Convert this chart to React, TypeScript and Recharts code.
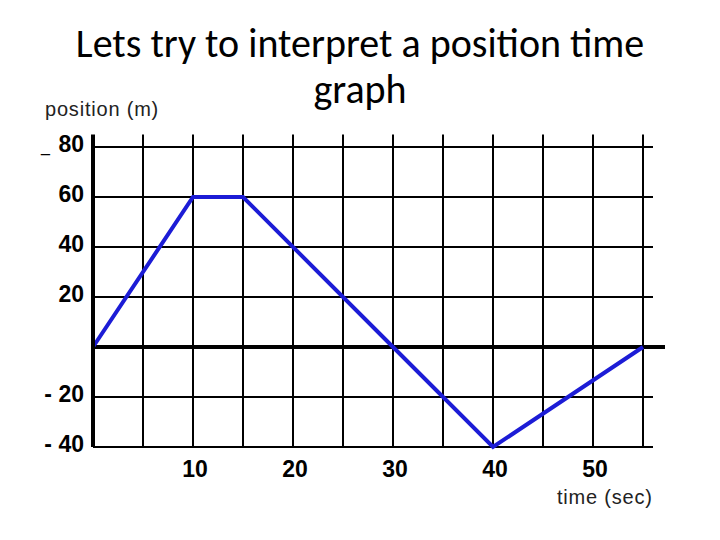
import { LineChart, Line, XAxis, YAxis, ReferenceLine } from 'recharts';

const times = [0, 10, 15, 30, 40, 55];
const positions = [0, 60, 60, 0, -40, 0];
const xTicks = [0, 5, 10, 15, 20, 25, 30, 35, 40, 45, 50, 55];
const xLabels = [10, 20, 30, 40, 50];
const yTicks = [-40, -20, 0, 20, 40, 60, 80];
const yLabels: Record<number, string> = { 80: '80', 60: '60', 40: '40', 20: '20', [-20]: '- 20', [-40]: '- 40' };

const data = times.map((t, i) => ({ t, pos: positions[i] }));

const tickFont = "'Liberation Sans', Arial, sans-serif";
const titleFont = "Carlito, Lato, 'Open Sans', sans-serif";

function XTick(props: any) {
  const { x, y, payload } = props;
  if (!xLabels.includes(payload.value)) return null;
  return (
    <text x={x + 2} y={y + 22} textAnchor="middle" fontSize={23} fontWeight="bold" fontFamily={tickFont} fill="#000">
      {payload.value}
    </text>
  );
}

function YTick(props: any) {
  const { y, payload } = props;
  const label = yLabels[payload.value];
  if (!label) return null;
  return (
    <g>
      {payload.value === 80 && (
        <text x={50} y={y + 5} textAnchor="end" fontSize={16} fontFamily={tickFont} fill="#000">_</text>
      )}
      <text x={84} y={y + 5} textAnchor="end" fontSize={23} fontWeight="bold" fontFamily={tickFont} fill="#000">
        {label}
      </text>
    </g>
  );
}

export default function App() {
  return (
    <div style={{ position: 'absolute', left: 0, top: 0, width: 720, height: 540, background: '#fff' }}>
      <LineChart width={720} height={540} data={data} margin={{ top: 134.5, right: 67, bottom: 63, left: 33 }}>
        <XAxis dataKey="t" type="number" domain={[0, 56]} ticks={xTicks} axisLine={false} tickLine={false} height={30} tick={<XTick />} interval={0} />
        <YAxis type="number" domain={[-40, 85]} ticks={yTicks} width={60} axisLine={{ stroke: '#000', strokeWidth: 4 }} tickLine={false} tick={<YTick />} interval={0} />
        {xTicks.filter((v) => v > 0).map((v) => (
          <ReferenceLine key={'v' + v} segment={[{ x: v, y: -40 }, { x: v, y: 85 }]} stroke="#000" strokeWidth={2} />
        ))}
        {yTicks.filter((v) => v !== 0).map((v) => (
          <ReferenceLine key={'h' + v} segment={[{ x: 0, y: v }, { x: 56, y: v }]} stroke="#000" strokeWidth={2} />
        ))}
        <ReferenceLine segment={[{ x: 0, y: 0 }, { x: 57.2, y: 0 }]} stroke="#000" strokeWidth={4} ifOverflow="visible" />
        <Line dataKey="pos" type="linear" stroke="#1c1cd6" strokeWidth={4} dot={false} isAnimationActive={false} />
      </LineChart>
      <svg width={720} height={540} style={{ position: 'absolute', left: 0, top: 0, pointerEvents: 'none' }}>
        <text x={360} y={57} textAnchor="middle" fontFamily={titleFont} fontSize={40} fill="#000">
          Lets try to interpret a position time
        </text>
        <text x={360} y={103} textAnchor="middle" fontFamily={titleFont} fontSize={40} fill="#000">
          graph
        </text>
        <text x={45} y={116} fontFamily={tickFont} fontSize={20} letterSpacing={0.8} fill="#222">position (m)</text>
        <text x={557} y={504} fontFamily={tickFont} fontSize={20} letterSpacing={0.8} fill="#222">time (sec)</text>
      </svg>
    </div>
  );
}
